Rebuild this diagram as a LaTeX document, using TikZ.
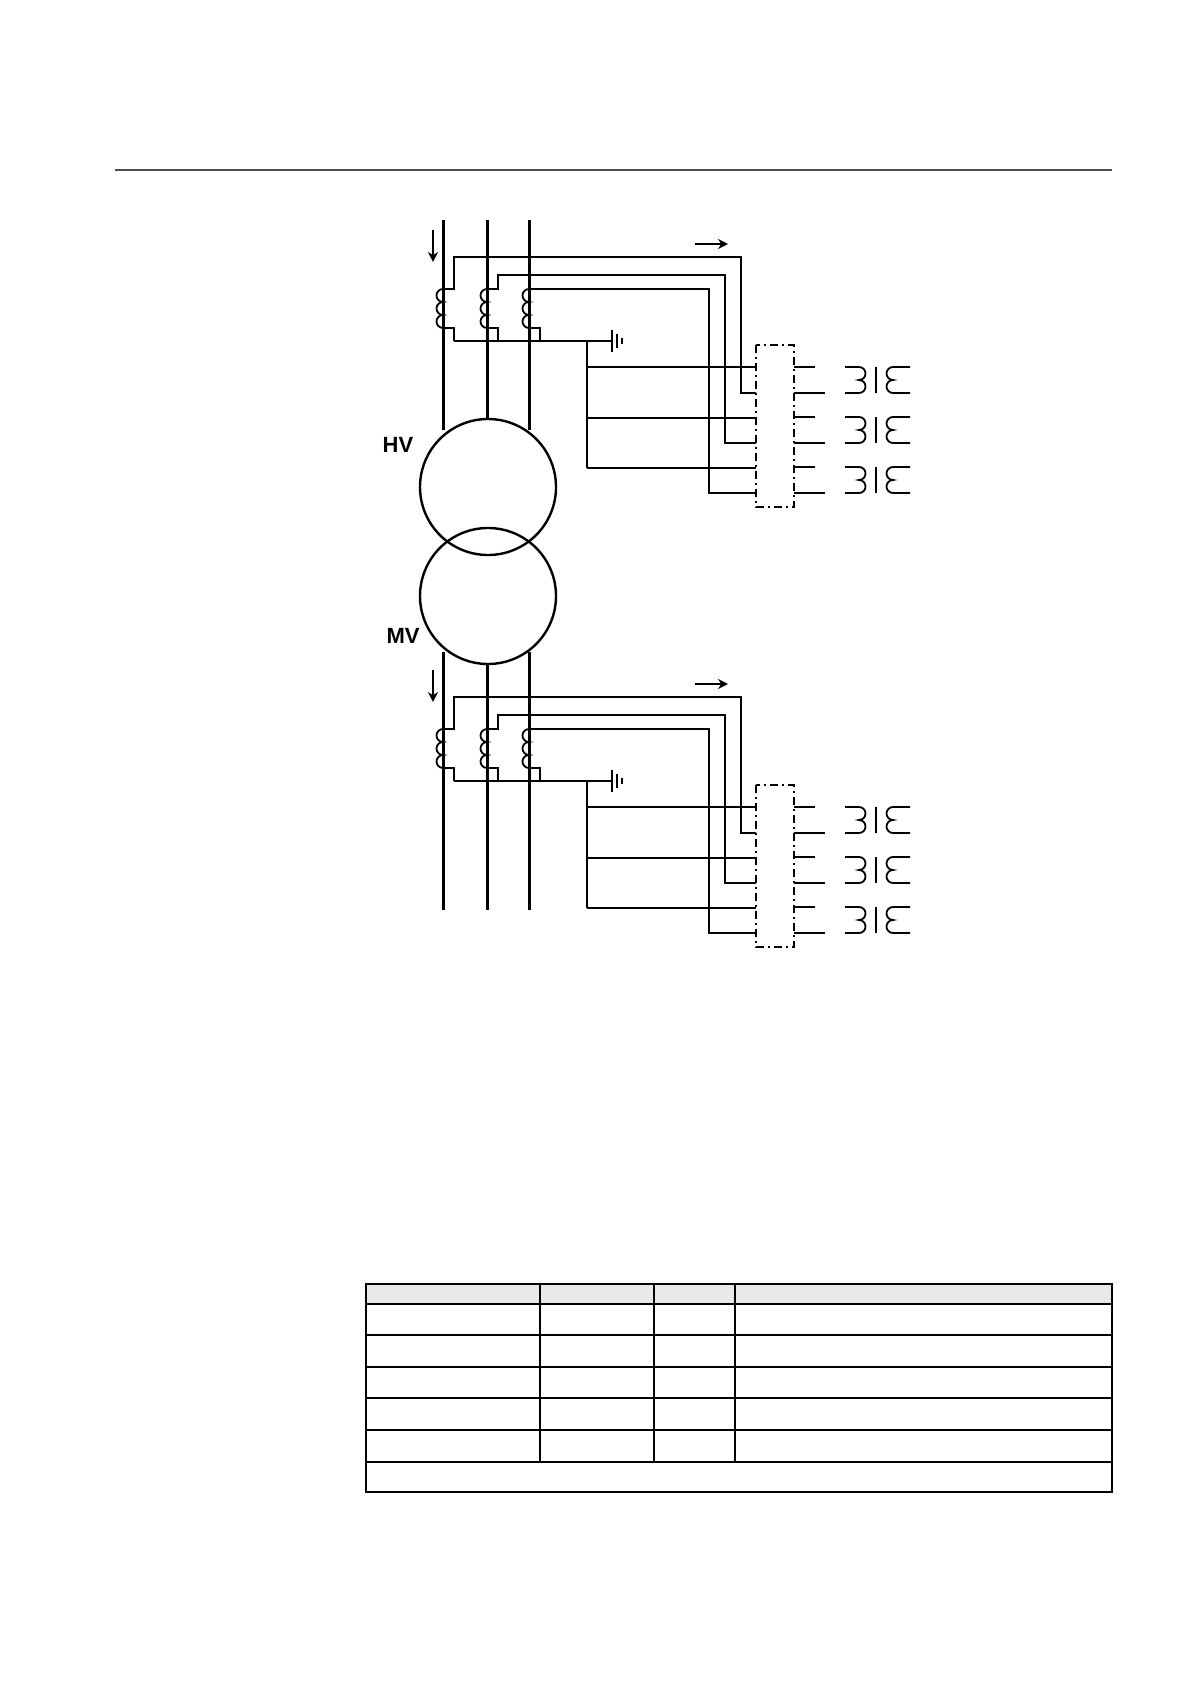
\documentclass[tikz,border=0pt]{standalone}
\usepackage{fontspec}
\setmainfont{Liberation Sans}
\usetikzlibrary{arrows.meta}
\tikzset{
 phase/.style={line width=1.5pt},
 wire/.style={line width=0.9pt},
 lbl/.style={font=\bfseries\fontsize{11}{12}\selectfont},
 flow/.style={line width=0.9pt,-{Stealth[length=5pt,width=5pt]}},
 tb/.style={line width=0.9pt,dash pattern=on 4pt off 2pt on 1pt off 2pt},
}
\newcommand{\ctsection}{%
  % arrows
  \draw[flow] (433,230) -- (433,262);
  \draw[flow] (695,244) -- (728,244);
  % coils
  \foreach \x in {443,487,529}{
    \draw[wire] (\x,289) arc[start angle=90,end angle=270,radius=3.25pt]
      arc[start angle=90,end angle=270,radius=3.25pt]
      arc[start angle=90,end angle=270,radius=3.25pt];
  }
  % secondary wiring
  \draw[wire] (443,289) -- (454,289) -- (454,257) -- (741,257) -- (741,393) -- (756,393);
  \draw[wire] (487,289) -- (498,289) -- (498,275) -- (725,275) -- (725,443) -- (756,443);
  \draw[wire] (529,289) -- (709,289) -- (709,493) -- (756,493);
  \draw[wire] (443,328) -- (454,328) -- (454,341);
  \draw[wire] (487,328) -- (498,328) -- (498,341);
  \draw[wire] (529,328) -- (540,328) -- (540,341);
  \draw[wire] (454,341) -- (612,341);
  \draw[wire] (612,330) -- (612,352);
  \draw[wire] (617,334) -- (617,348);
  \draw[wire] (622,338) -- (622,344);
  \draw[wire] (587,341) -- (587,468);
  \foreach \y in {367,418,468} \draw[wire] (587,\y) -- (756,\y);
  % terminal block
  \draw[tb] (756,345) rectangle (794,507);
  \foreach \i in {0,1,2}{
    \pgfmathsetmacro{\ya}{367+50*\i}
    \pgfmathsetmacro{\yb}{393+50*\i}
    \pgfmathsetmacro{\ym}{380+50*\i}
    \draw[wire] (794,\ya) -- (815,\ya);
    \draw[wire] (794,\yb) -- (825,\yb);
    \draw[wire] (845,\ya) -- (859,\ya) arc[start angle=90,end angle=-90,radius=3.25pt]
      arc[start angle=90,end angle=-90,radius=3.25pt] -- (845,\yb);
    \draw[wire] (910,\ya) -- (893,\ya) arc[start angle=90,end angle=270,radius=3.25pt]
      arc[start angle=90,end angle=270,radius=3.25pt] -- (910,\yb);
    \draw[wire] (876,\ya) -- (876,\yb);
  }
}
\begin{document}
\begin{tikzpicture}[x=0.5pt,y=-0.5pt]
\useasboundingbox (0,0) rectangle (1191,1684);
\draw[line width=0.6pt,black!70] (115,170) -- (1112,170);
% transformer
\node[draw,circle,line width=1.2pt,minimum size=68pt,inner sep=0pt] (hv) at (488,487) {};
\node[draw,circle,line width=1.2pt,minimum size=68pt,inner sep=0pt] (mv) at (488,596) {};
\node[lbl] (hvl) at (398,445) {HV};
\node[lbl] (mvl) at (403,636) {MV};
\draw[phase] (443,220) -- (443,430);
\draw[phase] (487,220) -- (487,419);
\draw[phase] (529,220) -- (529,430);
\draw[phase] (443,652) -- (443,910);
\draw[phase] (487,664) -- (487,910);
\draw[phase] (529,652) -- (529,910);
\ctsection
\begin{scope}[yshift=-220pt]
\ctsection
\end{scope}
% table
\fill[black!9] (366,1284) rectangle (1112,1304);
\draw[line width=0.7pt] (366,1284) rectangle (1112,1492);
\foreach \y in {1304,1335,1367,1398,1430,1462} \draw[line width=0.7pt] (366,\y) -- (1112,\y);
\foreach \x in {540,654,735} \draw[line width=0.7pt] (\x,1284) -- (\x,1462);
\end{tikzpicture}
\end{document}
